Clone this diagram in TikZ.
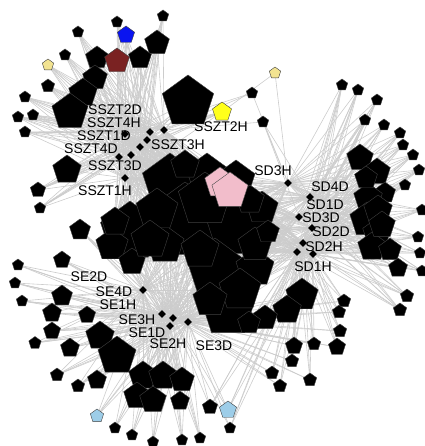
\documentclass[tikz,border=0pt]{standalone}
\usepackage{fontspec}
\setmainfont{Liberation Sans}
\usetikzlibrary{shapes.geometric,backgrounds}
\definecolor{cblue}{HTML}{0A14F0}
\definecolor{cmaroon}{HTML}{7A2222}
\definecolor{cpaleyel}{HTML}{F2E391}
\definecolor{cyel}{HTML}{FFFF1A}
\definecolor{cpink}{HTML}{F2BDCB}
\definecolor{clblue}{HTML}{9DCDE8}
\definecolor{cedge}{HTML}{CCCCCC}
\begin{document}
\begin{tikzpicture}[x=1pt,y=-1pt,
  pent/.style={regular polygon,regular polygon sides=5,inner sep=0pt,draw=black!75,line width=0.4pt},
  hub/.style={diamond,fill=black,inner sep=0pt,minimum size=8pt},
  lab/.style={font=\fontsize{14}{14}\selectfont,inner sep=0pt,text=black},
  edge/.style={draw=cedge,line width=0.6pt}]
\useasboundingbox (0,0) rectangle (424,446);

% central mass
\foreach \x/\y/\d [count=\i] in {170/182/58, 207/175/44, 236/180/40, 130/232/62, 185/222/80, 238/225/70, 262/208/34, 165/245/40, 215/268/60, 228/310/56, 255/268/40, 112/245/34, 132/262/28, 157/210/44, 205/200/56, 200/250/40, 240/290/44, 255/245/36, 150/240/40, 115/222/30, 250/200/30, 210/300/36, 185/165/30, 268/232/24}
  \node[pent,fill=black,minimum size=\d pt] (m\i) at (\x,\y) {};
\node[pent,fill=cpink,draw=black!70,minimum size=32pt] (pk1) at (220,183) {};
\node[pent,fill=cpink,draw=black!70,minimum size=38pt] (pk2) at (230,191) {};

% cluster A (top-left)
\foreach \x/\y/\d/\c [count=\i] in {117/22/12/black, 163/16/12/black, 78/32/12/black, 65/55/12/black, 48/86/14/black, 25/97/12/black, 18/117/12/black, 33/115/12/black, 25/132/12/black, 97/58/24/black, 157/43/26/black, 140/58/24/black, 95/78/26/black, 83/93/30/black, 70/112/38/black, 188/102/54/black, 67/170/30/black, 38/190/16/black, 40/208/12/black, 126/35/18/cblue, 117/61/26/cmaroon, 48/65/12/cpaleyel, 222/112/20/cyel}
  \node[pent,fill=\c,minimum size=\d pt] (pa\i) at (\x,\y) {};
\foreach \x/\y/\d/\c [count=\i] in {252/93/12/black, 263/122/12/black, 275/73/12/cpaleyel}
  \node[pent,fill=\c,minimum size=\d pt] (py\i) at (\x,\y) {};

% cluster B (right)
\foreach \x/\y/\d [count=\i] in {342/85/12, 358/90/12, 377/100/12, 365/120/12, 384/125/12, 400/133/12, 403/145/12, 413/155/12, 419/170/12, 405/185/12, 422/210/12, 360/158/28, 377/172/28, 385/193/22, 368/198/30, 367/220/36, 377/233/30, 372/247/30, 390/250/24, 398/268/20, 418/237/12, 420/253/12, 422/271/12, 407/296/14, 400/310/14, 366/178/24, 378/210/30, 382/225/28}
  \node[pent,fill=black,minimum size=\d pt] (pb\i) at (\x,\y) {};

% cluster D (bottom-right)
\foreach \x/\y/\d/\c [count=\i] in {302/295/34/black, 287/310/30/black, 265/318/26/black, 249/323/24/black, 344/301/14/black, 339/312/14/black, 340/331/14/black, 337/347/18/black, 314/344/14/black, 294/346/18/black, 292/361/14/black, 272/373/14/black, 280/386/14/black, 310/380/14/black, 210/407/16/black, 230/428/12/black, 228/410/18/clblue}
  \node[pent,fill=\c,minimum size=\d pt] (pd\i) at (\x,\y) {};

% cluster C (bottom-left)
\foreach \x/\y/\d/\c [count=\i] in {80/230/22/black, 62/260/18/black, 18/265/12/black, 15/283/12/black, 22/301/12/black, 62/296/22/black, 52/313/20/black, 87/315/18/black, 52/331/18/black, 35/343/13/black, 70/348/20/black, 100/336/30/black, 117/356/40/black, 143/376/30/black, 163/376/30/black, 182/380/26/black, 137/396/28/black, 153/400/28/black, 180/401/20/black, 97/380/20/black, 78/386/14/black, 57/375/14/black, 115/428/12/black, 132/435/12/black, 153/442/12/black, 182/440/12/black, 200/438/12/black, 97/416/14/clblue}
  \node[pent,fill=\c,minimum size=\d pt] (pc\i) at (\x,\y) {};

% hubs
\foreach \x/\y [count=\i] in {150/132, 164/130, 125/134, 147/140, 140/147, 131/155, 119/157, 125/178}
  \node[hub] (a\i) at (\x,\y) {};
\foreach \x/\y [count=\i] in {288/183, 310/197, 299/217, 312/228, 303/243, 297/252, 313/254}
  \node[hub] (b\i) at (\x,\y) {};
\foreach \x/\y [count=\i] in {143/290, 162/314, 173/318, 170/326, 188/322}
  \node[hub] (c\i) at (\x,\y) {};

% labels
\foreach \x/\y/\t [count=\i] in {115/110/SSZT2D, 114/123/SSZT4H, 104/136/SSZT1D, 91/149/SSZT4D, 178/145/SSZT3H, 115/166/SSZT3D, 105/191/SSZT1H, 221/127/SSZT2H, 273/171/SD3H, 330/187/SD4D, 325/205/SD1D, 321/218/SD3D, 331/232/SD2D, 324/247/SD2H, 313/267/SD1H, 89/277/SE2D, 114/292/SE4D, 118/305/SE1H, 137/320/SE3H, 147/333/SE1D, 168/344/SE2H, 214/346/SE3D}
  \node[lab] (l\i) at (\x,\y) {\t};

\begin{pgfonlayer}{background}
\foreach \h in {1,...,8}{
  \foreach \i in {1,...,23} {\draw[edge] (a\h) -- (pa\i);}
  \foreach \i in {1,...,24} {\draw[edge] (a\h) -- (m\i);}
  \draw[edge] (a\h) -- (pk1); \draw[edge] (a\h) -- (pk2);
}
\foreach \h in {1,...,7}{
  \foreach \i in {1,...,28} {\draw[edge] (b\h) -- (pb\i);}
  \foreach \i in {1,...,24} {\draw[edge] (b\h) -- (m\i);}
  \draw[edge] (b\h) -- (pk1); \draw[edge] (b\h) -- (pk2);
}
\foreach \h in {1,...,5}{
  \foreach \i in {1,...,28} {\draw[edge] (c\h) -- (pc\i);}
  \foreach \i in {1,...,24} {\draw[edge] (c\h) -- (m\i);}
  \draw[edge] (c\h) -- (pk1); \draw[edge] (c\h) -- (pk2);
}
\foreach \h in {b5,b6,b7,c3,c5}{
  \foreach \i in {1,...,17} {\draw[edge] (\h) -- (pd\i);}
}
\draw[edge] (py1) -- (a2); \draw[edge] (py1) -- (a3); \draw[edge] (py1) -- (b1);
\draw[edge] (py2) -- (a2); \draw[edge] (py2) -- (b1); \draw[edge] (py2) -- (b2); \draw[edge] (py2) -- (b3);
\draw[edge] (py3) -- (pa23); \draw[edge] (py3) -- (b1);
\end{pgfonlayer}
\end{tikzpicture}
\end{document}
